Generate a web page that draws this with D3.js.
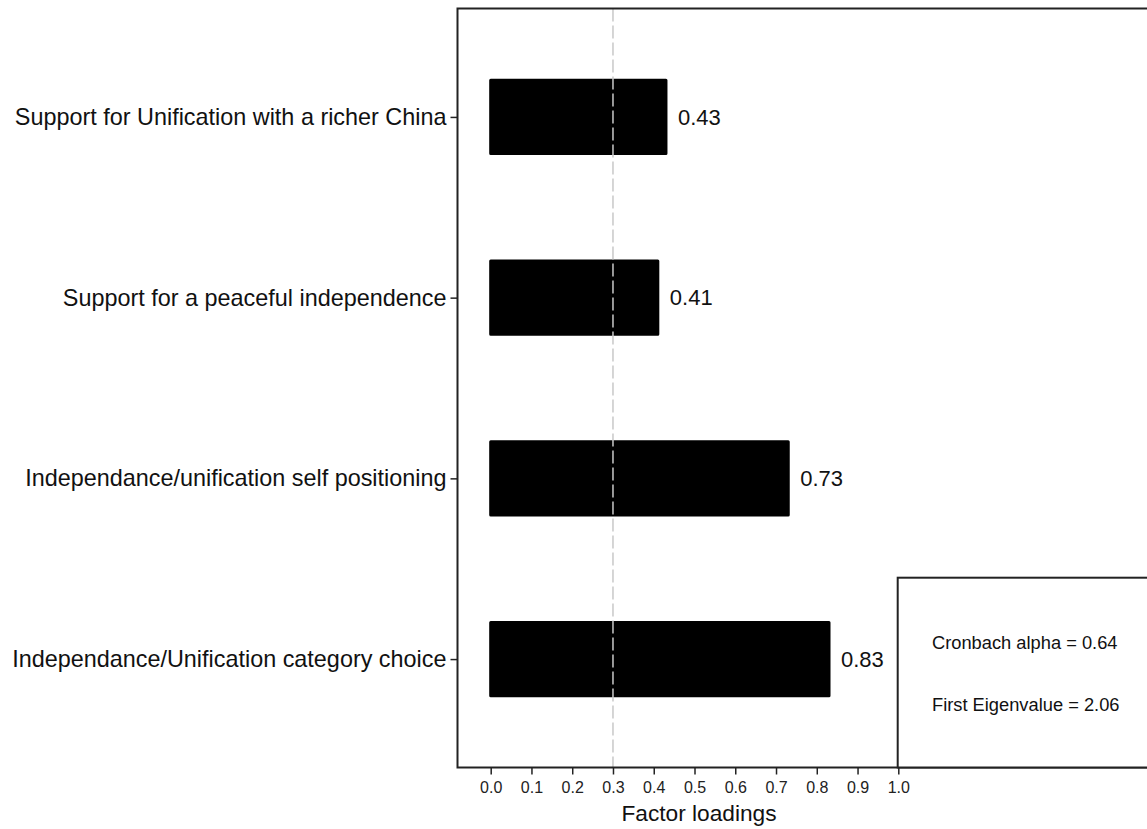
<!DOCTYPE html>
<html>
<head>
<meta charset="utf-8">
<script src="https://cdn.jsdelivr.net/npm/d3@7"></script>
<style>
  html, body { margin: 0; padding: 0; background: #fff; }
  svg { display: block; font-family: "Liberation Sans", Arial, sans-serif; }
</style>
</head>
<body>
<svg id="chart" width="1147" height="829"></svg>
<script>
// Factor loadings of the four independence/unification items
const categories = [
  "Support for Unification with a richer China",
  "Support for a peaceful independence",
  "Independance/unification self positioning",
  "Independance/Unification category choice"
];
const loadings = [0.43, 0.41, 0.73, 0.83];
const xTicks = [0, 0.1, 0.2, 0.3, 0.4, 0.5, 0.6, 0.7, 0.8, 0.9, 1.0];
const threshold = 0.3;
const statsLines = ["Cronbach alpha = 0.64", "First Eigenvalue = 2.06"];
const xTitle = "Factor loadings";

const svg = d3.select("#chart");

// plot frame
const frame = { left: 457.5, top: 8.5, bottom: 767.5, right: 1160 };

const x = d3.scaleLinear().domain([0, 1]).range([490.7, 898.3]);
const y = d3.scalePoint().domain(categories)
  .range([frame.top, frame.bottom]).padding(0.6);
const barH = y.step() * 0.405;

// bars
svg.append("g").selectAll("rect")
  .data(loadings)
  .join("rect")
  .attr("x", x(0))
  .attr("y", (d, i) => y(categories[i]) - barH / 2)
  .attr("width", d => x(d) - x(0))
  .attr("height", barH)
  .attr("fill", "#000")
  .attr("stroke", "#000")
  .attr("stroke-width", 3)
  .attr("stroke-linejoin", "round");

// reference line at 0.3
svg.append("line")
  .attr("x1", x(threshold)).attr("x2", x(threshold))
  .attr("y1", frame.top).attr("y2", frame.bottom)
  .attr("stroke", "#c8c8c8")
  .attr("stroke-width", 1.5)
  .attr("stroke-dasharray", "13,4");

// value labels
svg.append("g").selectAll("text")
  .data(loadings)
  .join("text")
  .attr("x", d => x(d) + 12)
  .attr("y", (d, i) => y(categories[i]))
  .attr("dy", "0.35em")
  .attr("font-size", 22)
  .attr("fill", "#111")
  .text(d => d.toFixed(2));

// frame
svg.append("rect")
  .attr("x", frame.left).attr("y", frame.top)
  .attr("width", frame.right - frame.left)
  .attr("height", frame.bottom - frame.top)
  .attr("fill", "none")
  .attr("stroke", "#222")
  .attr("stroke-width", 2);

// left axis
const yAxis = svg.append("g")
  .attr("transform", `translate(${frame.left},0)`)
  .call(d3.axisLeft(y).tickSize(7).tickPadding(4));
yAxis.select(".domain").remove();
yAxis.selectAll(".tick line").attr("stroke", "#222").attr("stroke-width", 1.5);
yAxis.selectAll(".tick text")
  .attr("font-size", 23.4)
  .attr("fill", "#111")
  .attr("font-family", "\"Liberation Sans\", Arial, sans-serif");

// bottom axis
const xAxis = svg.append("g")
  .attr("transform", `translate(0,${frame.bottom})`)
  .call(d3.axisBottom(x).tickValues(xTicks).tickFormat(d3.format(".1f"))
    .tickSize(7).tickPadding(7));
xAxis.select(".domain").remove();
xAxis.selectAll(".tick line").attr("stroke", "#222").attr("stroke-width", 1.5);
xAxis.selectAll(".tick text")
  .attr("font-size", 16)
  .attr("fill", "#222")
  .attr("font-family", "\"Liberation Sans\", Arial, sans-serif");

// axis title
svg.append("text")
  .attr("x", 699)
  .attr("y", 821)
  .attr("text-anchor", "middle")
  .attr("font-size", 22.7)
  .attr("fill", "#111")
  .text(xTitle);

// statistics box
const box = { left: 897.7, top: 577.7 };
svg.append("rect")
  .attr("x", box.left).attr("y", box.top)
  .attr("width", frame.right - box.left)
  .attr("height", frame.bottom - box.top)
  .attr("fill", "#fff")
  .attr("stroke", "#222")
  .attr("stroke-width", 2);

svg.append("g").selectAll("text")
  .data(statsLines)
  .join("text")
  .attr("x", 932)
  .attr("y", (d, i) => 642.3 + i * 62.7)
  .attr("dy", "0.35em")
  .attr("font-size", 18.3)
  .attr("fill", "#111")
  .text(d => d);
</script>
</body>
</html>
